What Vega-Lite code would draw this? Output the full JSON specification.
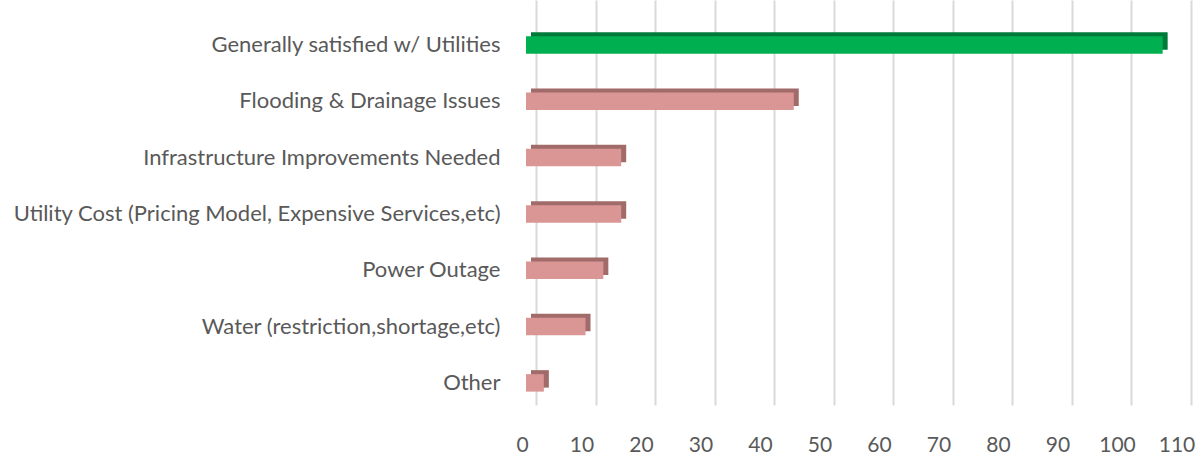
{
  "$schema": "https://vega.github.io/schema/vega-lite/v6.json",
  "width": 654.5,
  "height": 405,
  "autosize": {"type": "none"},
  "padding": {"left": 536, "top": 0, "right": 8.5, "bottom": 52},
  "background": "white",
  "config": {"view": {"stroke": null}, "font": "Lato"},
  "data": {
    "values": [
      {"category": "Generally satisfied w/ Utilities", "count": 107, "group": "satisfied"},
      {"category": "Flooding & Drainage Issues", "count": 45, "group": "issue"},
      {"category": "Infrastructure Improvements Needed", "count": 16, "group": "issue"},
      {"category": "Utility Cost (Pricing Model, Expensive Services,etc)", "count": 16, "group": "issue"},
      {"category": "Power Outage", "count": 13, "group": "issue"},
      {"category": "Water (restriction,shortage,etc)", "count": 10, "group": "issue"},
      {"category": "Other", "count": 3, "group": "issue"}
    ]
  },
  "encoding": {
    "y": {
      "field": "category",
      "type": "nominal",
      "sort": null,
      "title": null,
      "scale": {"paddingInner": 0.69, "paddingOuter": 0.44, "align": 0.73},
      "axis": {
        "domain": false,
        "ticks": false,
        "grid": false,
        "labelPadding": 36,
        "labelFontSize": 22,
        "labelColor": "#595959",
        "labelFont": "Lato",
        "labelLimit": 600
      }
    },
    "x": {
      "field": "count",
      "type": "quantitative",
      "title": null,
      "stack": null,
      "scale": {"domain": [0, 110], "nice": false},
      "axis": {
        "values": [0, 10, 20, 30, 40, 50, 60, 70, 80, 90, 100, 110],
        "domain": false,
        "ticks": false,
        "grid": true,
        "gridColor": "#d9d9d9",
        "gridWidth": 2,
        "labelFlush": false,
        "labelPadding": 29,
        "labelOffset": -14,
        "labelFontSize": 21,
        "labelColor": "#595959",
        "labelFont": "Lato"
      }
    },
    "x2": {"datum": 0}
  },
  "layer": [
    {
      "mark": {"type": "bar", "xOffset": -5, "x2Offset": -5, "yOffset": -4, "y2Offset": -4},
      "encoding": {
        "color": {
          "field": "group",
          "type": "nominal",
          "scale": {"domain": ["satisfied", "issue"], "range": ["#007A38", "#A06B69"]},
          "legend": null
        }
      }
    },
    {
      "mark": {"type": "bar", "xOffset": -10, "x2Offset": -10},
      "encoding": {
        "color": {
          "field": "group",
          "type": "nominal",
          "scale": {"domain": ["satisfied", "issue"], "range": ["#00B050", "#D99694"]},
          "legend": null
        }
      }
    }
  ],
  "resolve": {"scale": {"color": "independent"}}
}
